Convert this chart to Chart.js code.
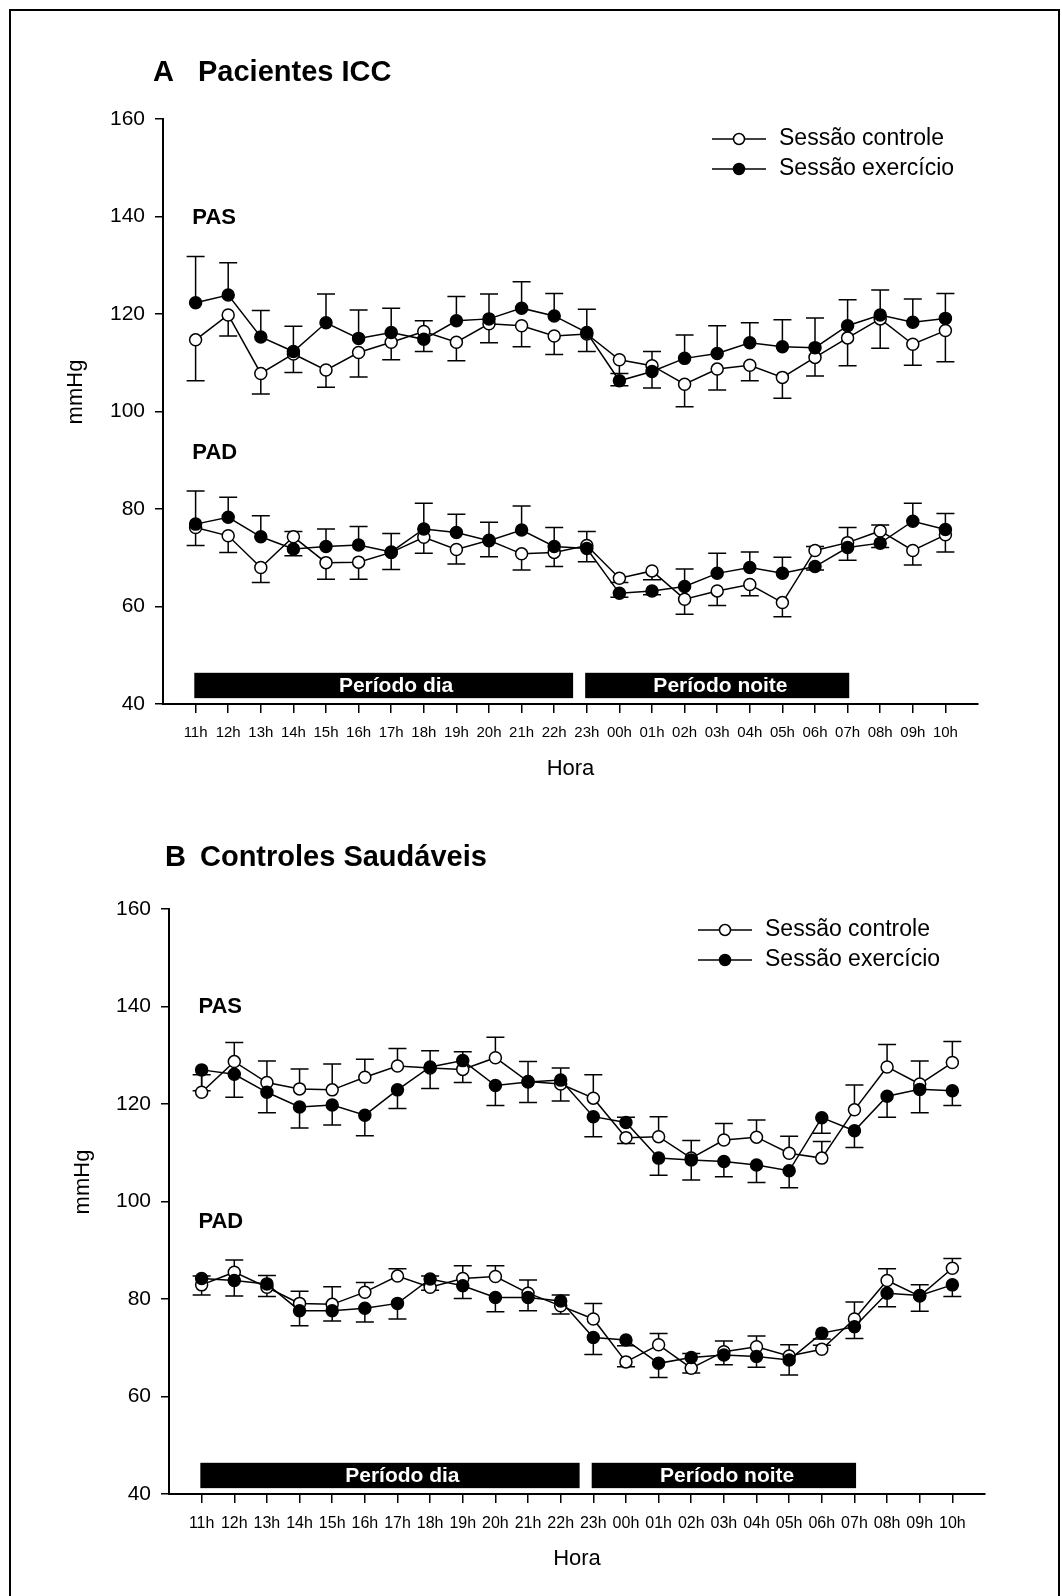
<!DOCTYPE html>
<html>
<head>
<meta charset="utf-8">
<script src="https://cdn.jsdelivr.net/npm/chart.js@4.4.1/dist/chart.umd.min.js"></script>
<style>
  html, body { margin: 0; padding: 0; background: #fff; }
  #page { position: relative; width: 1062px; height: 1596px; overflow: hidden; }
  #frame { position: absolute; left: 9px; top: 9px; width: 1051px; height: 1700px; border: 2px solid #000; box-sizing: border-box; }
  canvas { position: absolute; left: 0; }
</style>
</head>
<body>
<div id="page">
  <div id="frame"></div>
  <canvas id="chartA" width="1062" height="790" style="top:0"></canvas>
  <canvas id="chartB" width="1062" height="806" style="top:790px"></canvas>
</div>
<script>
const hours = ['11h','12h','13h','14h','15h','16h','17h','18h','19h','20h','21h','22h',
               '23h','00h','01h','02h','03h','04h','05h','06h','07h','08h','09h','10h'];

// A - Pacientes ICC (mean, signed SE: + bar drawn up, - bar drawn down)
const iccPasCtrl   = [114.7,119.8,107.8,111.8,108.5,112.1,114.2,116.4,114.2,118.0,117.6,115.5,115.9,110.6,109.4,105.6,108.7,109.5,107.0,111.1,115.1,119.0,113.8,116.6];
const iccPasCtrlSe = [-8.4,-4.3,-4.2,-3.8,-3.5,-5.0,-3.6,2.2,-3.8,-3.9,-4.3,-3.8,-3.6,-2.8,2.9,-4.6,-4.3,-3.2,-4.3,-3.8,-5.7,-6.0,-4.3,-6.4];
const iccPasExer   = [122.3,123.9,115.3,112.3,118.2,115.0,116.2,114.8,118.6,119.0,121.2,119.6,116.2,106.3,108.2,110.9,111.9,114.1,113.3,113.1,117.6,119.8,118.3,119.1];
const iccPasExerSe = [9.5,6.6,5.4,5.2,5.9,5.8,5.0,-2.5,5.0,5.1,5.4,4.6,4.8,-1.0,-3.4,4.8,5.7,4.1,5.5,6.1,5.3,5.1,4.8,5.1];
const iccPadCtrl   = [76.2,74.5,68.0,74.3,69.0,69.1,71.1,74.2,71.7,73.6,70.8,71.1,72.5,65.8,67.3,61.5,63.2,64.5,60.8,71.5,73.1,75.5,71.5,74.7];
const iccPadCtrlSe = [-3.7,-3.4,-3.1,1.1,-3.4,-3.5,-3.5,-3.3,-3.0,-3.4,-3.3,-2.9,-3.3,-0.9,-1.8,-3.1,-3.0,-2.3,-2.9,0.8,3.1,1.2,-3.0,-3.5];
const iccPadExer   = [76.9,78.3,74.3,71.8,72.3,72.6,71.2,75.9,75.2,73.5,75.7,72.3,71.9,62.7,63.2,64.1,66.8,68.0,66.8,68.2,72.1,73.0,77.5,75.8];
const iccPadExerSe = [6.8,4.1,4.3,-1.4,3.6,3.8,3.8,5.3,3.7,3.8,4.9,3.9,3.5,-0.8,-0.8,3.6,4.1,3.2,3.3,-0.7,-2.6,-0.9,3.7,3.3];

// B - Controles Saudáveis
const sauPasCtrl   = [122.4,128.7,124.4,123.1,122.9,125.5,127.8,127.4,127.1,129.5,124.6,124.1,121.2,113.1,113.3,108.9,112.6,113.2,109.9,108.9,118.8,127.6,124.1,128.5];
const sauPasCtrlSe = [3.6,3.9,4.4,4.1,5.3,3.7,3.6,-4.2,-2.7,4.2,4.1,-3.5,4.8,-1.2,4.1,3.6,3.4,3.5,3.5,3.4,5.1,4.6,4.7,4.3];
const sauPasExer   = [127.0,126.1,122.4,119.4,119.8,117.7,122.9,127.6,128.9,123.8,124.5,124.9,117.4,116.2,108.9,108.5,108.2,107.5,106.3,117.2,114.5,121.6,123.0,122.7];
const sauPasExerSe = [-4.3,-4.7,-4.2,-4.3,-4.1,-4.2,-3.8,3.3,1.8,-4.1,-4.2,2.5,-4.1,1.1,-3.5,-4.1,-3.1,-3.6,-3.5,-3.2,-3.4,-4.3,-4.8,-3.0];
const sauPadCtrl   = [82.9,85.5,82.4,79.1,78.9,81.4,84.7,82.4,84.2,84.6,81.2,78.6,75.9,67.1,70.6,65.8,69.2,70.2,68.3,69.7,75.9,83.8,80.6,86.3];
const sauPadCtrlSe = [-2.1,2.5,-1.9,2.5,3.6,2.0,1.5,-0.6,2.6,2.2,2.7,-1.7,3.2,-1.0,2.3,-1.0,2.2,2.2,2.3,0.8,3.5,2.4,2.3,2.0];
const sauPadExer   = [84.2,83.8,83.1,77.6,77.6,78.1,79.1,84.1,82.7,80.3,80.3,79.6,72.1,71.6,66.8,68.0,68.5,68.2,67.5,73.0,74.3,81.2,80.7,82.9];
const sauPadExerSe = [0.5,-3.2,1.7,-3.1,-2.1,-2.8,-3.2,0.6,-2.6,-2.9,-2.7,1.2,-3.5,-1.2,-2.9,0.8,-2.0,-2.2,-3.1,-1.2,-2.4,-2.8,-3.2,-2.4];

const legendLabels = ['Sessão controle', 'Sessão exercício'];
const periodLabels = ['Período dia', 'Período noite'];
const periodStart  = [-0.04, 11.95];
const periodEnd    = [11.58, 20.05];
const periodTextX  = [6.15, 16.1];
const periodLow = 41.2, periodHigh = 46.4;
const tagLabels = ['PAS', 'PAD'];

const FONT = '"Liberation Sans", Arial, Helvetica, sans-serif';

function series(values) {
  return values.map((v, i) => ({ x: i, y: v }));
}

function dataset(label, values, se, filled) {
  return {
    label: label,
    se: se,
    data: series(values),
    borderColor: '#000',
    borderWidth: 1.5,
    pointRadius: 6,
    pointHoverRadius: 6,
    pointBackgroundColor: filled ? '#000' : '#fff',
    pointBorderColor: '#000',
    pointBorderWidth: 1.5,
    tension: 0,
    fill: false
  };
}

// error bars, panel title, PAS/PAD tags, day/night bars, y title and the legend
const extras = {
  id: 'extras',
  beforeDatasetsDraw(chart) {
    const ctx = chart.ctx, ys = chart.scales.y;
    ctx.save();
    ctx.strokeStyle = '#000';
    ctx.lineWidth = 1.5;
    chart.data.datasets.forEach((ds, di) => {
      chart.getDatasetMeta(di).data.forEach((pt, i) => {
        const yEnd = ys.getPixelForValue(ds.data[i].y + ds.se[i]);
        ctx.beginPath();
        ctx.moveTo(pt.x, pt.y);
        ctx.lineTo(pt.x, yEnd);
        ctx.moveTo(pt.x - 9, yEnd);
        ctx.lineTo(pt.x + 9, yEnd);
        ctx.stroke();
      });
    });
    ctx.restore();
  },
  afterDraw(chart, args, o) {
    const ctx = chart.ctx, xs = chart.scales.x, ys = chart.scales.y;
    ctx.save();
    ctx.fillStyle = '#000';
    ctx.textBaseline = 'middle';
    ctx.textAlign = 'left';

    ctx.font = 'bold 29px ' + FONT;
    ctx.fillText(o.letter, o.letterX, o.titleY);
    ctx.fillText(o.title, o.titleX, o.titleY);

    ctx.font = 'bold 22px ' + FONT;
    tagLabels.forEach((t, i) => {
      ctx.fillText(t, xs.getPixelForValue(-0.1), ys.getPixelForValue(o.tagY[i]));
    });

    // y axis title
    ctx.save();
    ctx.translate(o.yTitleX, ys.getPixelForValue(o.yTitleAt));
    ctx.rotate(-Math.PI / 2);
    ctx.textAlign = 'center';
    ctx.font = '22px ' + FONT;
    ctx.fillText('mmHg', 0, 0);
    ctx.restore();

    // day / night bars
    const top = ys.getPixelForValue(periodHigh), bot = ys.getPixelForValue(periodLow);
    periodLabels.forEach((p, i) => {
      const x1 = xs.getPixelForValue(periodStart[i]), x2 = xs.getPixelForValue(periodEnd[i]);
      ctx.fillStyle = '#000';
      ctx.fillRect(x1, top, x2 - x1, bot - top);
      ctx.fillStyle = '#fff';
      ctx.font = 'bold 21px ' + FONT;
      ctx.textAlign = 'center';
      ctx.fillText(p, xs.getPixelForValue(periodTextX[i]), (top + bot) / 2 + 1);
    });

    // legend
    ctx.textAlign = 'left';
    ctx.font = '23px ' + FONT;
    legendLabels.forEach((l, i) => {
      const y = o.legendY + i * 30;
      ctx.strokeStyle = '#000';
      ctx.lineWidth = 1.5;
      ctx.beginPath();
      ctx.moveTo(o.legendX, y);
      ctx.lineTo(o.legendX + 54, y);
      ctx.stroke();
      ctx.beginPath();
      ctx.arc(o.legendX + 27, y, 5.5, 0, Math.PI * 2);
      ctx.fillStyle = i === 0 ? '#fff' : '#000';
      ctx.fill();
      ctx.stroke();
      ctx.fillStyle = '#000';
      ctx.fillText(l, o.legendX + 67, y);
    });
    ctx.restore();
  }
};

function makeChart(id, p) {
  return new Chart(id, {
    type: 'line',
    data: {
      datasets: [
        dataset('PAS exercício', p.pasExer, p.pasExerSe, true),
        dataset('PAD exercício', p.padExer, p.padExerSe, true),
        dataset('PAS controle', p.pasCtrl, p.pasCtrlSe, false),
        dataset('PAD controle', p.padCtrl, p.padCtrlSe, false)
      ]
    },
    plugins: [extras],
    options: {
      responsive: false,
      animation: false,
      layout: { padding: { left: p.left - 100, right: 1062 - p.right, top: 119, bottom: p.bottomPad } },
      plugins: {
        legend: { display: false },
        tooltip: { enabled: false },
        extras: p.extras
      },
      scales: {
        x: {
          type: 'linear',
          min: -1,
          max: 24,
          afterBuildTicks: (axis) => { axis.ticks = hours.map((h, i) => ({ value: i })); },
          afterFit: (axis) => { axis.height = 80; },
          ticks: {
            autoSkip: false,
            maxRotation: 0,
            padding: 11,
            color: '#000',
            font: { family: FONT, size: p.xFont },
            callback: (v) => hours[v]
          },
          grid: { drawOnChartArea: false, drawTicks: true, tickLength: 9, color: '#000', lineWidth: 1.5 },
          border: { display: true, color: '#000', width: 2 },
          title: { display: true, text: 'Hora', color: '#000', font: { family: FONT, size: 22 }, padding: { top: 0, bottom: 2 } }
        },
        y: {
          min: 40,
          max: 160,
          afterFit: (axis) => { axis.width = 100; },
          ticks: {
            stepSize: 20,
            padding: 10,
            color: '#000',
            font: { family: FONT, size: 21 }
          },
          grid: { drawOnChartArea: false, drawTicks: true, tickLength: 8, color: '#000', lineWidth: 1.5 },
          border: { display: true, color: '#000', width: 2 }
        }
      }
    }
  });
}

makeChart('chartA', {
  pasCtrl: iccPasCtrl, pasCtrlSe: iccPasCtrlSe, pasExer: iccPasExer, pasExerSe: iccPasExerSe,
  padCtrl: iccPadCtrl, padCtrlSe: iccPadCtrlSe, padExer: iccPadExer, padExerSe: iccPadExerSe,
  left: 163, right: 978, bottomPad: 6, xFont: 15,
  extras: { letter: 'A', title: 'Pacientes ICC', letterX: 153, titleX: 198, titleY: 73,
            tagY: [139.7, 91.4], legendX: 712, legendY: 139, yTitleX: 76, yTitleAt: 104 }
});

makeChart('chartB', {
  pasCtrl: sauPasCtrl, pasCtrlSe: sauPasCtrlSe, pasExer: sauPasExer, pasExerSe: sauPasExerSe,
  padCtrl: sauPadCtrl, padCtrlSe: sauPadCtrlSe, padExer: sauPadExer, padExerSe: sauPadExerSe,
  left: 169, right: 985, bottomPad: 22, xFont: 16,
  extras: { letter: 'B', title: 'Controles Saudáveis', letterX: 165, titleX: 200, titleY: 68,
            tagY: [140.0, 95.9], legendX: 698, legendY: 140, yTitleX: 83, yTitleAt: 104 }
});
</script>
</body>
</html>
